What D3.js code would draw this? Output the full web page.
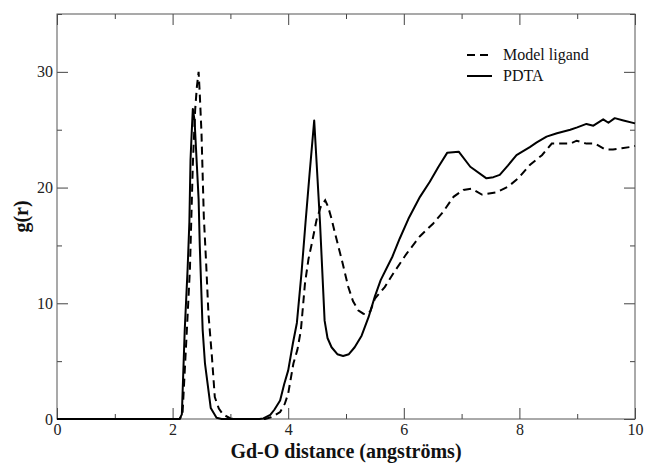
<!DOCTYPE html>
<html>
<head>
<meta charset="utf-8">
<script src="https://cdn.jsdelivr.net/npm/d3@7"></script>
<style>
  body { margin: 0; background: #fff; }
  svg { display: block; }
  svg text { font-family: "Liberation Serif", "DejaVu Serif", "Times New Roman", serif; }
</style>
</head>
<body>
<svg id="chart" width="647" height="464"></svg>
<script>
// ---- data ----
const pdtaR = [0, 2.12, 2.16, 2.21, 2.26, 2.29, 2.31, 2.33, 2.35, 2.38, 2.45, 2.47, 2.52, 2.56, 2.66, 2.76, 2.85,
  3.5, 3.57, 3.69, 3.76, 3.86, 3.93, 4.0, 4.08, 4.15, 4.23, 4.3, 4.37, 4.45, 4.55, 4.63, 4.68, 4.75, 4.85, 4.95,
  5.05, 5.15, 5.27, 5.39, 5.5, 5.6, 5.7, 5.8, 5.93, 6.08, 6.28, 6.45, 6.6, 6.75, 6.95, 7.15, 7.43, 7.55, 7.66,
  7.8, 7.95, 8.05, 8.18, 8.3, 8.47, 8.65, 8.88, 9.0, 9.16, 9.28, 9.45, 9.54, 9.65, 9.8, 10];
const pdtaG = [0, 0, 0.4, 7.7, 13, 17, 22.4, 24.7, 26.8, 25.8, 19, 15, 7.7, 4.8, 0.95, 0.1, 0,
  0, 0.05, 0.35, 0.8, 1.6, 3.0, 4.2, 6.5, 8.3, 12.6, 17, 21.2, 25.8, 17.0, 8.5, 7.0, 6.2, 5.6, 5.45,
  5.6, 6.2, 7.2, 8.8, 10.6, 12.0, 13.0, 14.0, 15.6, 17.3, 19.2, 20.5, 21.8, 23.0, 23.1, 21.8, 20.8, 20.9, 21.1,
  21.9, 22.8, 23.1, 23.5, 23.9, 24.4, 24.7, 25.0, 25.2, 25.5, 25.35, 25.9, 25.6, 26.0, 25.8, 25.55];

const modelR = [0, 2.12, 2.17, 2.25, 2.3, 2.35, 2.39, 2.42, 2.45, 2.47, 2.5, 2.54, 2.58, 2.62, 2.68, 2.73, 2.8,
  2.87, 3.0, 3.1, 3.6, 3.7, 3.78, 3.86, 3.94, 4.0, 4.09, 4.16, 4.22, 4.29, 4.35, 4.41, 4.49, 4.56, 4.64, 4.69,
  4.75, 4.81, 4.93, 5.04, 5.12, 5.21, 5.3, 5.36, 5.42, 5.5, 5.67, 5.82, 6.05, 6.28, 6.51, 6.68, 6.86, 7.03,
  7.17, 7.35, 7.61, 7.81, 7.98, 8.18, 8.39, 8.56, 8.7, 8.88, 8.99, 9.16, 9.31, 9.48, 9.62, 9.77, 9.91, 10];
const modelG = [0, 0, 0.3, 8, 13, 22, 26.7, 28.7, 30, 28.1, 24.7, 17.5, 13.5, 9.1, 5.4, 1.9, 0.9,
  0.4, 0.05, 0, 0, 0.15, 0.35, 0.6, 1.3, 2.2, 4.8, 6.0, 7.7, 11.7, 13.8, 15.2, 17.2, 18.3, 18.9, 18.35,
  17.3, 16.05, 13.7, 11.4, 10.2, 9.4, 9.1, 9.05, 9.3, 10.4, 11.4, 12.6, 14.3, 15.8, 16.9, 17.9, 19.2, 19.8,
  19.9, 19.4, 19.6, 20.1, 20.8, 21.95, 22.8, 23.8, 23.8, 23.8, 24.05, 23.8, 23.8, 23.3, 23.3, 23.4, 23.5, 23.6];

const xMajor = [0, 2, 4, 6, 8, 10];
const xMinor = [1, 3, 5, 7, 9];
const yMajor = [0, 10, 20, 30];
const yMinor = [5, 15, 25, 35];

const seriesNames = ["Model ligand", "PDTA"];

// ---- layout ----
const width = 647, height = 464;
const margin = {top: 14, right: 12, bottom: 45, left: 57};
const serif = '"Liberation Serif", "DejaVu Serif", "Times New Roman", serif';

const svg = d3.select("#chart");

const x = d3.scaleLinear().domain([0, 10]).range([margin.left, width - margin.right]);
const y = d3.scaleLinear().domain([0, 35]).range([height - margin.bottom, margin.top]);

//// axes, ticks pointing inward on all four sides
function styleAxis(g) {
  g.attr("font-family", null).attr("font-size", null);
  g.select(".domain").remove();
  g.selectAll(".tick line").attr("stroke", "#444").attr("stroke-width", 1);
  g.selectAll(".tick text").style("font-family", serif).style("font-size", "16px").attr("fill", "#222");
}

svg.append("g")
  .attr("transform", `translate(0,${y(0)})`)
  .call(d3.axisBottom(x).tickValues(xMajor).tickSize(-11).tickSizeOuter(0).tickPadding(5))
  .call(styleAxis);
svg.append("g")
  .attr("transform", `translate(0,${y(0)})`)
  .call(d3.axisBottom(x).tickValues(xMinor).tickSize(-5).tickSizeOuter(0).tickFormat(""))
  .call(styleAxis);
svg.append("g")
  .attr("transform", `translate(0,${y(35)})`)
  .call(d3.axisTop(x).tickValues(xMajor).tickSize(-11).tickSizeOuter(0).tickFormat(""))
  .call(styleAxis);
svg.append("g")
  .attr("transform", `translate(0,${y(35)})`)
  .call(d3.axisTop(x).tickValues(xMinor).tickSize(-5).tickSizeOuter(0).tickFormat(""))
  .call(styleAxis);

svg.append("g")
  .attr("transform", `translate(${x(0)},0)`)
  .call(d3.axisLeft(y).tickValues(yMajor).tickSize(-11).tickSizeOuter(0).tickPadding(4))
  .call(styleAxis);
svg.append("g")
  .attr("transform", `translate(${x(0)},0)`)
  .call(d3.axisLeft(y).tickValues(yMinor).tickSize(-5).tickSizeOuter(0).tickFormat(""))
  .call(styleAxis);
svg.append("g")
  .attr("transform", `translate(${x(10)},0)`)
  .call(d3.axisRight(y).tickValues(yMajor).tickSize(-11).tickSizeOuter(0).tickFormat(""))
  .call(styleAxis);
svg.append("g")
  .attr("transform", `translate(${x(10)},0)`)
  .call(d3.axisRight(y).tickValues(yMinor).tickSize(-5).tickSizeOuter(0).tickFormat(""))
  .call(styleAxis);

// frame
svg.append("rect")
  .attr("x", x(0)).attr("y", y(35))
  .attr("width", x(10) - x(0)).attr("height", y(0) - y(35))
  .attr("fill", "none").attr("stroke", "#555").attr("stroke-width", 1);

//// curves
const line = d3.line().x(d => x(d[0])).y(d => y(d[1]));

const modelData = modelR.map((r, i) => [r, modelG[i]]);
const pdtaData = pdtaR.map((r, i) => [r, pdtaG[i]]);

svg.append("path")
  .datum(pdtaData)
  .attr("d", line)
  .attr("fill", "none")
  .attr("stroke", "#000")
  .attr("stroke-width", 2)
  .attr("stroke-linejoin", "round");

svg.append("path")
  .datum(modelData)
  .attr("d", line)
  .attr("fill", "none")
  .attr("stroke", "#000")
  .attr("stroke-width", 2)
  .attr("stroke-dasharray", "8,5");

//// axis titles
svg.append("text")
  .attr("x", (x(0) + x(10)) / 2)
  .attr("y", 458)
  .attr("text-anchor", "middle")
  .style("font-size", "20px")
  .style("font-weight", "bold")
  .attr("fill", "#111")
  .text("Gd-O distance (angströms)");

svg.append("text")
  .attr("transform", `translate(28,${(y(0) + y(35)) / 2}) rotate(-90)`)
  .attr("text-anchor", "middle")
  .style("font-size", "20px")
  .style("font-weight", "bold")
  .attr("fill", "#111")
  .text("g(r)");

//// legend
const legend = svg.append("g").attr("transform", "translate(467,55)");
const legendItem = legend.selectAll("g")
  .data(seriesNames)
  .join("g")
  .attr("transform", (d, i) => `translate(0,${i * 21})`);

legendItem.append("line")
  .attr("x1", 0).attr("x2", 25)
  .attr("stroke", "#000")
  .attr("stroke-width", 2)
  .attr("stroke-dasharray", (d, i) => i === 0 ? "8,5" : null);

legendItem.append("text")
  .attr("x", 36)
  .attr("y", 5)
  .style("font-size", "16px")
  .attr("fill", "#111")
  .text(d => d);
</script>
</body>
</html>
